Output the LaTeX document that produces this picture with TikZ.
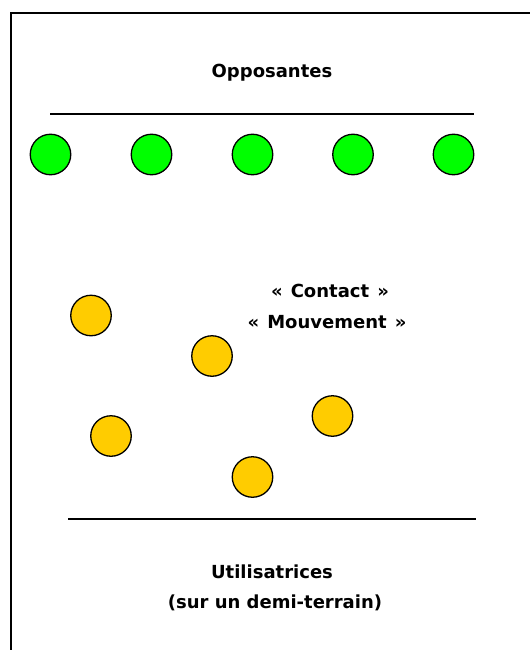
\documentclass[tikz,border=0pt]{standalone}
\usepackage{fontspec}
\setmainfont{DejaVu Sans}
\definecolor{oppgreen}{HTML}{00FF00}
\definecolor{usergold}{HTML}{FFCC00}
\newcommand{\gsp}{\hspace{0.45em}}
\tikzset{
  player/.style={circle, draw=black, line width=1.3pt, minimum size=40.5pt, inner sep=0pt},
  opp/.style={player, fill=oppgreen},
  usr/.style={player, fill=usergold},
  lbl/.style={font=\fontsize{18}{21}\selectfont\bfseries, inner sep=0pt, anchor=base},
  rule/.style={line width=2pt},
}
\begin{document}
\begin{tikzpicture}[x=1pt,y=-1pt]
\useasboundingbox (0,0) rectangle (530,650);
% frame (only left and top edges inside the picture)
\coordinate (fbl) at (10.5,650);
\coordinate (ftl) at (10.5,13.5);
\coordinate (ftr) at (530,13.5);
\draw[line width=2pt] (fbl) -- (ftl) -- (ftr);
% titles
\node[lbl] (opp) at (272,78) {Opposantes};
\coordinate (tl1) at (50,114);
\coordinate (tl2) at (474,114);
\draw[rule] (tl1) -- (tl2);
% opponents
\node[opp] (g1) at (50.5,154.5) {};
\node[opp] (g2) at (151.5,154.5) {};
\node[opp] (g3) at (252.5,154.5) {};
\node[opp] (g4) at (353,154.5) {};
\node[opp] (g5) at (453.5,154.5) {};
% users
\node[usr] (y1) at (91,315.5) {};
\node[usr] (y2) at (212,356) {};
\node[usr] (y3) at (111,436) {};
\node[usr] (y4) at (332.5,416) {};
\node[usr] (y5) at (252.5,477) {};
% center labels
\node[lbl] (contact) at (330,297) {«\gsp Contact\gsp »};
\node[lbl] (mouv) at (327,328) {«\gsp Mouvement\gsp »};
% bottom line
\coordinate (bl1) at (68,518.5);
\coordinate (bl2) at (476,518.5);
\draw[rule] (bl1) -- (bl2);
\node[lbl] (util) at (272,578) {Utilisatrices};
\node[lbl] (demi) at (275,608) {(sur un demi-terrain)};
\end{tikzpicture}
\end{document}
